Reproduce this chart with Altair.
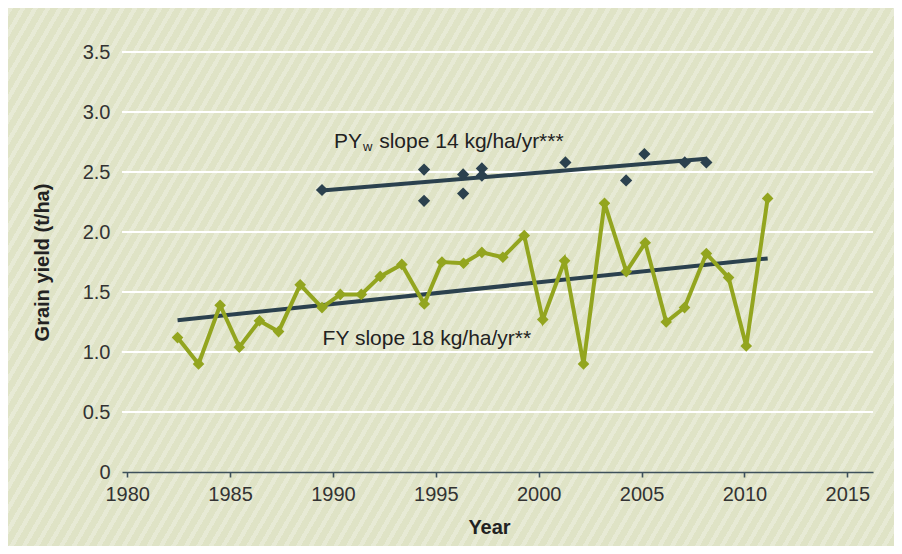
import altair as alt
import pandas as pd

# ---- data ----
fy_years = [1982.45, 1983.47, 1984.52, 1985.45, 1986.43, 1987.36, 1988.41, 1989.47,
            1990.36, 1991.38, 1992.30, 1993.35, 1994.44, 1995.30, 1996.35, 1997.24,
            1998.26, 1999.30, 2000.20, 2001.26, 2002.18, 2003.20, 2004.26, 2005.18,
            2006.20, 2007.09, 2008.15, 2009.23, 2010.09, 2011.13]
fy_values = [1.12, 0.90, 1.39, 1.04, 1.26, 1.17, 1.56, 1.37, 1.48, 1.48, 1.63, 1.73,
             1.40, 1.75, 1.74, 1.83, 1.79, 1.97, 1.27, 1.76, 0.90, 2.24, 1.67, 1.91,
             1.25, 1.37, 1.82, 1.62, 1.05, 2.28]

pyw_years = [1989.47, 1994.43, 1994.43, 1996.33, 1996.33, 1997.24, 1997.24,
             2001.30, 2004.25, 2005.14, 2007.10, 2008.15]
pyw_values = [2.35, 2.52, 2.26, 2.48, 2.32, 2.53, 2.47, 2.58, 2.43, 2.65, 2.58, 2.58]

fy_trend_years = [1982.45, 2011.13]
fy_trend_values = [1.265, 1.78]
pyw_trend_years = [1989.47, 2008.15]
pyw_trend_values = [2.346, 2.61]

label_texts = ["PY", "w", "slope 14 kg/ha/yr***", "FY slope 18 kg/ha/yr**"]
label_years = [1990.05, 1991.46, 1992.25, 1989.50]
label_values = [2.697, 2.679, 2.697, 1.058]
label_sizes = [21, 13, 21, 21]

x_ticks = [1980, 1985, 1990, 1995, 2000, 2005, 2010, 2015]
y_ticks = [0, 0.5, 1.0, 1.5, 2.0, 2.5, 3.0, 3.5]

# ---- styling ----
GREEN = "#93a51f"
NAVY = "#2b414e"
BG = "#dfe3c6"
STRIPE = "#e7ead5"
FONT = "Liberation Sans"

W, H = 751, 420
PAD = {"left": 114, "top": 44, "right": 21, "bottom": 74}

fy = pd.DataFrame({"year": fy_years, "value": fy_values})
pyw = pd.DataFrame({"year": pyw_years, "value": pyw_values})
fy_tr = pd.DataFrame({"year": fy_trend_years, "value": fy_trend_values})
pyw_tr = pd.DataFrame({"year": pyw_trend_years, "value": pyw_trend_values})
labels = pd.DataFrame({"text": label_texts, "year": label_years,
                       "value": label_values, "size": label_sizes})
grid = pd.DataFrame({"value": y_ticks[1:]})

xs = alt.Scale(domain=[1979.75, 2016.25], nice=False, zero=False)
ys = alt.Scale(domain=[0, 3.5], nice=False, zero=True)

x_axis = alt.Axis(values=x_ticks, format="d", title="Year", grid=False, zindex=1,
                  domainColor="#3d505b", domainWidth=1.6, tickColor="#3d505b",
                  tickSize=5, tickWidth=1.6, labelFont=FONT, labelFontSize=20,
                  labelColor="#333333", labelPadding=7, labelFlush=False,
                  titleFont=FONT, titleFontSize=20, titleFontWeight="bold",
                  titleColor="#222222", titleX=367, titleY=55,
                  titleBaseline="middle", titleAlign="center")
y_axis = alt.Axis(values=y_ticks, title="Grain yield (t/ha)", domain=False,
                  ticks=False, tickSize=0, grid=False, zindex=1,
                  labelFont=FONT, labelFontSize=20,
                  labelColor="#333333", labelPadding=12,
                  labelExpr="datum.value == 0 ? '0' : format(datum.value, '.1f')",
                  titleFont=FONT, titleFontSize=20, titleFontWeight="bold",
                  titleColor="#222222", titleX=-80, titleY=H / 2,
                  titleAngle=-90, titleBaseline="middle", titleAlign="center")

X = alt.X("year:Q", scale=xs, axis=x_axis)
Y = alt.Y("value:Q", scale=ys, axis=y_axis)

# diagonal stripe background (gradient with hard stops)
n = 96
stops = []
for k in range(n):
    a = k / n
    b = (k + 0.4) / n
    c = (k + 1) / n
    stops += [alt.GradientStop(offset=a, color=STRIPE),
              alt.GradientStop(offset=b, color=STRIPE),
              alt.GradientStop(offset=b, color=BG),
              alt.GradientStop(offset=c, color=BG)]
grad = alt.LinearGradient(gradient="linear", stops=stops,
                          x1=0, y1=0, x2=1.2028, y2=0.4214)

bg = alt.Chart(pd.DataFrame({"k": [0]})).mark_rect(fill=grad, strokeWidth=0).encode(
    x=alt.value(-PAD["left"]), x2=alt.value(W + PAD["right"]),
    y=alt.value(-PAD["top"]), y2=alt.value(H + PAD["bottom"]))

grid_rules = alt.Chart(grid).mark_rule(color="white", strokeWidth=2).encode(
    y=Y, x=alt.value(0), x2=alt.value(W))

fy_trend = alt.Chart(fy_tr).mark_line(color=NAVY, strokeWidth=4).encode(x=X, y=Y)
pyw_trend = alt.Chart(pyw_tr).mark_line(color=NAVY, strokeWidth=4).encode(x=X, y=Y)
fy_line = alt.Chart(fy).mark_line(color=GREEN, strokeWidth=4).encode(x=X, y=Y)
fy_pts = alt.Chart(fy).mark_point(shape="diamond", filled=True, size=135,
                                  color=GREEN, opacity=1).encode(x=X, y=Y)
pyw_pts = alt.Chart(pyw).mark_point(shape="diamond", filled=True, size=150,
                                    color=NAVY, opacity=1).encode(x=X, y=Y)

txt = alt.Chart(labels).mark_text(align="left", baseline="alphabetic",
                                  font=FONT, color="#222222").encode(
    x=X, y=Y, text="text:N", size=alt.Size("size:Q", scale=None, legend=None))

chart = alt.layer(bg, grid_rules, fy_trend, fy_line, fy_pts, pyw_trend, pyw_pts,
                  txt).properties(
    width=W, height=H,
    autosize=alt.AutoSizeParams(type="none"),
    padding=PAD,
    background=BG,
).configure_view(stroke=None)

chart.save("out.html", embed_options={"renderer": "svg", "actions": False})
